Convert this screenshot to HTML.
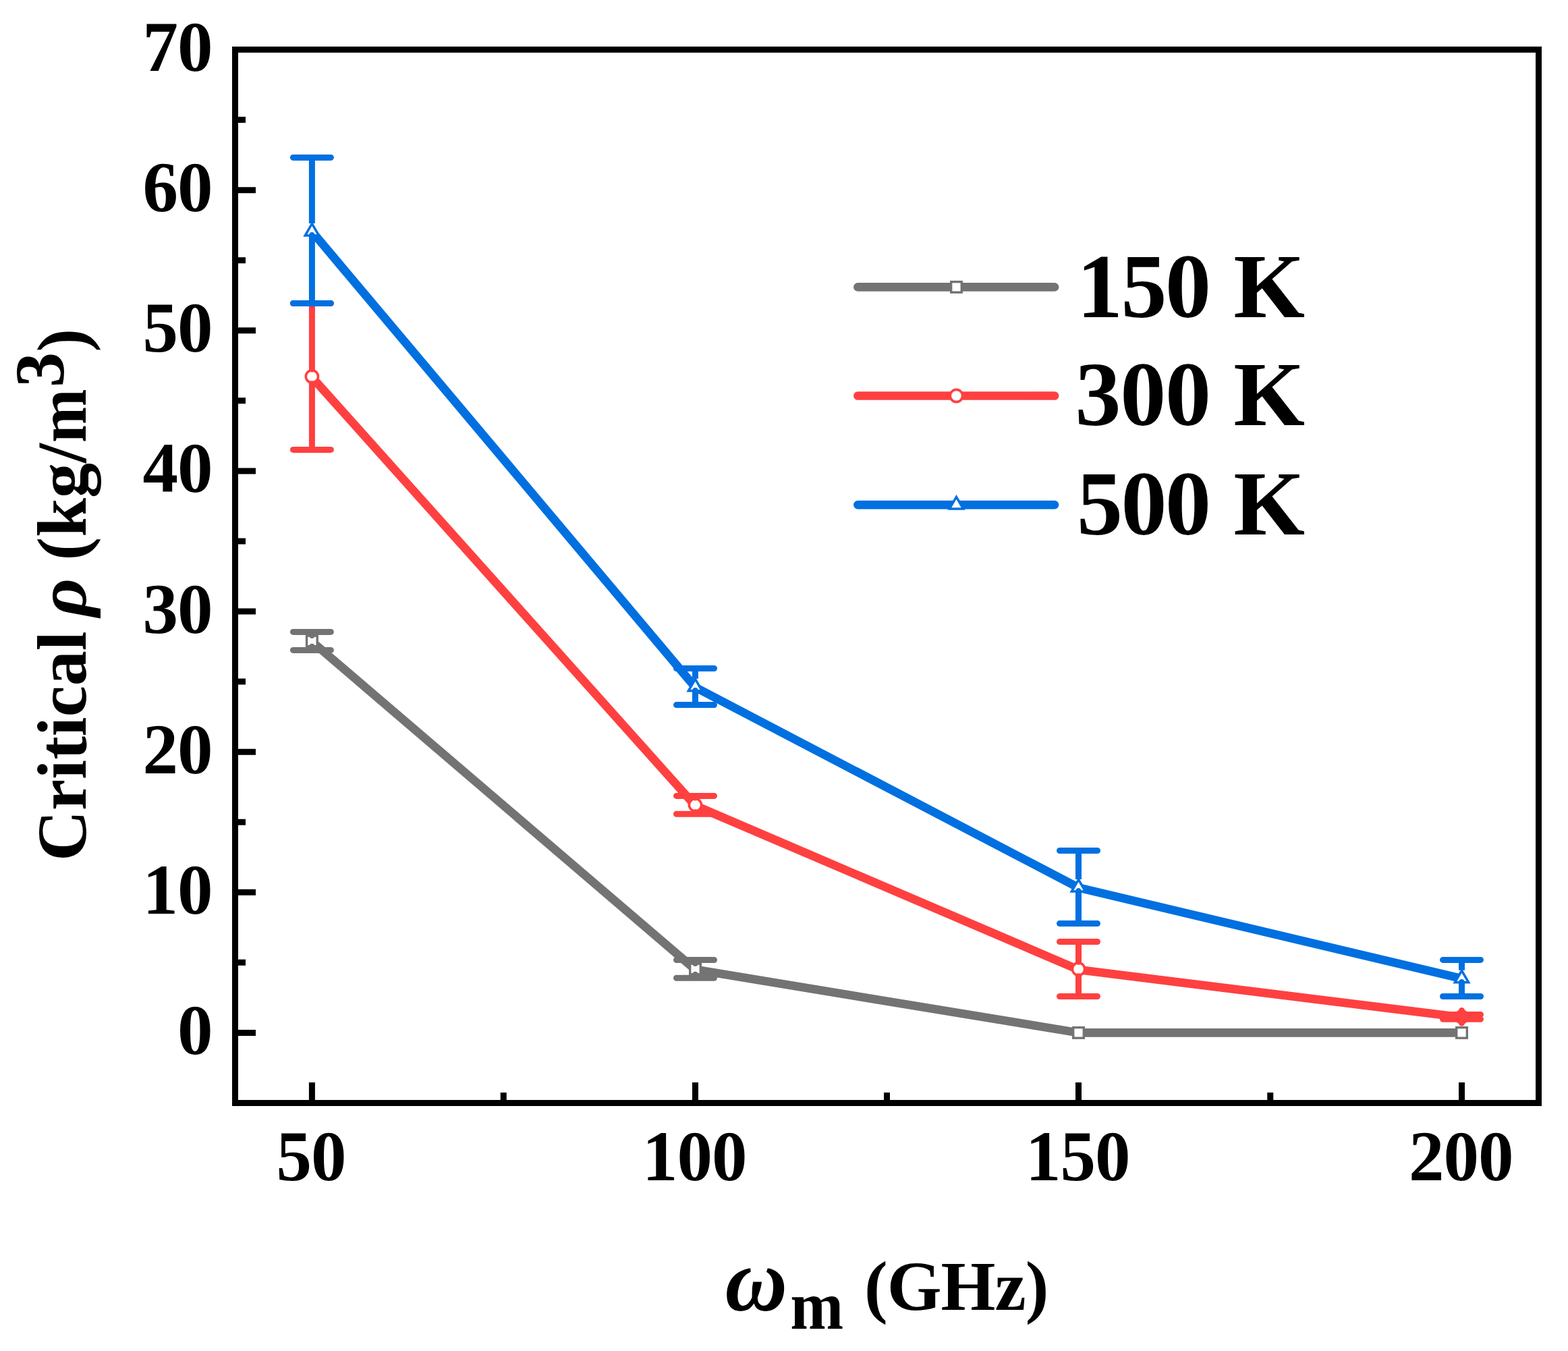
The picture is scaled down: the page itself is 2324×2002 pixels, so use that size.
<!DOCTYPE html>
<html><head><meta charset="utf-8"><title>Critical density vs frequency</title>
<style>
html,body{margin:0;padding:0;background:#fff;}
body{width:2324px;height:2002px;overflow:hidden;}
svg{display:block;}
.t{font-family:"Liberation Serif","Times New Roman",serif;font-weight:bold;fill:#000;}
.ls{letter-spacing:-1px;}
</style></head><body>
<svg width="2324" height="2002" viewBox="0 0 2324 2002">
<rect width="2324" height="2002" fill="#fff"/>
<path d="M348.5 1530.43H379M348.5 1322.3H379M348.5 1114.17H379M348.5 906.03H379M348.5 697.9H379M348.5 489.77H379M348.5 281.63H379M348.5 73.5H379M348.5 1426.37H364M348.5 1218.23H364M348.5 1010.1H364M348.5 801.97H364M348.5 593.83H364M348.5 385.7H364M348.5 177.57H364M462.4 1634.5V1604M1030.5 1634.5V1604M1598.5 1634.5V1604M2166.5 1634.5V1604M746.26 1634.5V1619M1314.5 1634.5V1619M1882.74 1634.5V1619" stroke="#000" stroke-width="9" fill="none"/>
<polyline points="462.4,950.8 1030.5,1436.8 1598.5,1530.4 2166.5,1530.4" fill="none" stroke="#737373" stroke-width="12.6" stroke-linejoin="round" stroke-linecap="round"/>
<rect x="454.6" y="942.1" width="15.6" height="15.6" fill="#fff" stroke="#737373" stroke-width="3.4"/>
<rect x="1022.7" y="1428.1" width="15.6" height="15.6" fill="#fff" stroke="#737373" stroke-width="3.4"/>
<rect x="1590.7" y="1522.6" width="15.6" height="15.6" fill="#fff" stroke="#737373" stroke-width="3.4"/>
<rect x="2158.7" y="1522.6" width="15.6" height="15.6" fill="#fff" stroke="#737373" stroke-width="3.4"/>
<path d="M462.4 936.4V941.6M462.4 963.4V958.2M434.4 936.4H490.4M434.4 963.4H490.4M1030.5 1422.5V1427.6M1030.5 1449.3V1444.2M1002.5 1422.5H1058.5M1002.5 1449.3H1058.5" fill="none" stroke="#737373" stroke-width="9" stroke-linecap="round"/>
<polyline points="462.4,558.95 1030.5,1193.85 1598.5,1437 2166.5,1507.5" fill="none" stroke="#FF4040" stroke-width="12.6" stroke-linejoin="round" stroke-linecap="round"/>
<circle cx="462.4" cy="557.95" r="9.1" fill="#fff" stroke="#FF4040" stroke-width="3.6"/>
<circle cx="1030.5" cy="1192.85" r="9.1" fill="#fff" stroke="#FF4040" stroke-width="3.6"/>
<circle cx="1598.5" cy="1436" r="9.1" fill="#fff" stroke="#FF4040" stroke-width="3.6"/>
<circle cx="2166.5" cy="1506.8" r="9.1" fill="#fff" stroke="#FF4040" stroke-width="3.6"/>
<path d="M462.4 449.5V547.15M462.4 666.4V568.75M434.4 449.5H490.4M434.4 666.4H490.4M1030.5 1179.4V1182.05M1030.5 1206.3V1203.65M1002.5 1179.4H1058.5M1002.5 1206.3H1058.5M1598.5 1395.5V1425.2M1598.5 1476.5V1446.8M1570.5 1395.5H1626.5M1570.5 1476.5H1626.5M2166.5 1503.4V1497.5M2166.5 1510.25V1516.1M2138.5 1503.4H2194.5M2138.5 1510.25H2194.5" fill="none" stroke="#FF4040" stroke-width="9" stroke-linecap="round"/>
<polyline points="462.4,343 1030.5,1018.5 1598.5,1315.4 2166.5,1450.2" fill="none" stroke="#0070E0" stroke-width="12.6" stroke-linejoin="round" stroke-linecap="round"/>
<path d="M462.4 331.48L472.55 349.06L452.25 349.06Z" fill="#fff" stroke="#0070E0" stroke-width="3.5" stroke-miterlimit="10"/>
<path d="M1030.5 1006.28L1040.65 1023.86L1020.35 1023.86Z" fill="#fff" stroke="#0070E0" stroke-width="3.5" stroke-miterlimit="10"/>
<path d="M1598.5 1303.48L1608.65 1321.06L1588.35 1321.06Z" fill="#fff" stroke="#0070E0" stroke-width="3.5" stroke-miterlimit="10"/>
<path d="M2166.5 1438.28L2176.65 1455.86L2156.35 1455.86Z" fill="#fff" stroke="#0070E0" stroke-width="3.5" stroke-miterlimit="10"/>
<path d="M462.4 233.4V330.9M1030.5 990.5V1005.7M1598.5 1260.5V1302.9M2166.5 1422.4V1437.7" fill="none" stroke="#0070E0" stroke-width="9"/>
<path d="M462.4 449.5V348.6M434.4 233.4H490.4M434.4 449.5H490.4M1030.5 1044.6V1023.4M1002.5 990.5H1058.5M1002.5 1044.6H1058.5M1598.5 1368.5V1320.6M1570.5 1260.5H1626.5M1570.5 1368.5H1626.5M2166.5 1476.5V1455.4M2138.5 1422.4H2194.5M2138.5 1476.5H2194.5" fill="none" stroke="#0070E0" stroke-width="9" stroke-linecap="round"/>
<rect x="348.5" y="73.5" width="1932" height="1561" fill="none" stroke="#000" stroke-width="9"/>
<path d="M1271.3 425.4H1563.1" stroke="#737373" stroke-width="12.6" stroke-linecap="round"/>
<rect x="1409.65" y="417.6" width="15.6" height="15.6" fill="#fff" stroke="#737373" stroke-width="3.4"/>
<text x="1596 1661.5 1727 1795 1828.3" y="469.8" class="t" font-size="136">150 K</text>
<path d="M1271.3 586.5H1563.1" stroke="#FF4040" stroke-width="12.6" stroke-linecap="round"/>
<circle cx="1417.45" cy="586.5" r="9.1" fill="#fff" stroke="#FF4040" stroke-width="3.6"/>
<text x="1593.6 1660.3 1727 1795 1828.3" y="630.3" class="t" font-size="136">300 K</text>
<path d="M1271.3 748.1H1563.1" stroke="#0070E0" stroke-width="12.6" stroke-linecap="round"/>
<path d="M1417.45 736.38L1427.6 753.96L1407.3 753.96Z" fill="#fff" stroke="#0070E0" stroke-width="3.5" stroke-miterlimit="10"/>
<text x="1595.9 1661.5 1727 1795 1828.3" y="791.5" class="t" font-size="136">500 K</text>
<text x="314.6" y="1561.98" class="t ls" font-size="105" text-anchor="end">0</text>
<text x="314.6" y="1353.85" class="t ls" font-size="105" text-anchor="end">10</text>
<text x="314.6" y="1145.72" class="t ls" font-size="105" text-anchor="end">20</text>
<text x="314.6" y="937.58" class="t ls" font-size="105" text-anchor="end">30</text>
<text x="314.6" y="729.45" class="t ls" font-size="105" text-anchor="end">40</text>
<text x="314.6" y="521.32" class="t ls" font-size="105" text-anchor="end">50</text>
<text x="314.6" y="313.18" class="t ls" font-size="105" text-anchor="end">60</text>
<text x="314.6" y="105.05" class="t ls" font-size="105" text-anchor="end">70</text>
<text x="461.1" y="1749" class="t ls" font-size="105" text-anchor="middle">50</text>
<text x="1029.2" y="1749" class="t ls" font-size="105" text-anchor="middle">100</text>
<text x="1597.2" y="1749" class="t ls" font-size="105" text-anchor="middle">150</text>
<text x="2165.2" y="1749" class="t ls" font-size="105" text-anchor="middle">200</text>
<text transform="translate(1074.6 1941.6) scale(0.955 1)" class="t" font-size="134" font-style="italic">ω</text>
<text transform="translate(1171.3 1969) scale(0.925 1)" class="t" font-size="102.5">m</text>
<text x="1281.1" y="1941.1" class="t" font-size="104" letter-spacing="-1">(GHz)</text>
<g transform="translate(126.9 1276) rotate(-90)"><text x="0" y="0" class="t" font-size="104">Critical</text><text transform="translate(362.2 0) scale(1.065 1)" class="t" font-size="104" font-style="italic">ρ</text><text x="445.5" y="0" class="t" font-size="104">(kg/</text><text transform="translate(619.9 0) scale(0.92 1)" class="t" font-size="104">m</text><text x="702.1" y="-32.9" class="t" font-size="104">3</text><text x="754.5" y="0" class="t" font-size="104">)</text></g>
</svg>
</body></html>
